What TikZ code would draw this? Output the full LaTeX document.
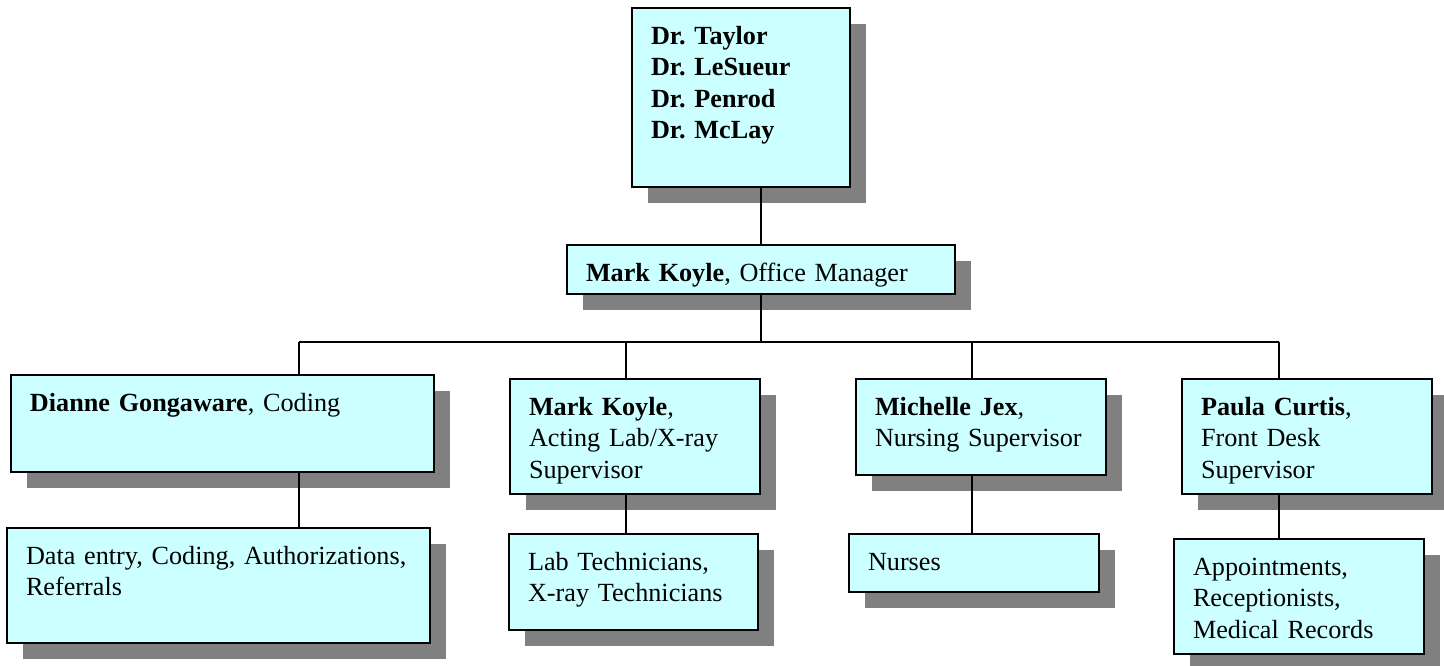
\documentclass[tikz,border=0pt]{standalone}
\usepackage{fontspec}
\setmainfont{Liberation Serif}
\usetikzlibrary{shadows}

\definecolor{boxcyan}{HTML}{CCFFFF}
\definecolor{shadowgray}{HTML}{808080}

\begin{document}
\frenchspacing
\begin{tikzpicture}[
  x=1pt, y=-1pt, font=\fontsize{26.2}{31.5}\selectfont,
  unit/.style 2 args={draw, line width=1.2pt, fill=boxcyan, anchor=north west,
    outer sep=0pt, inner xsep=19pt, inner ysep=0pt, align=left,
    text width=#1, text height=36pt, text depth=#2,
    drop shadow={shadow xshift=16pt, shadow yshift=-16pt, fill=shadowgray, opacity=1}},
  link/.style={line width=1.1pt}]
\useasboundingbox (0,0) rectangle (1444,665);
% top and office manager
\node[unit={180pt}{143pt}] (top) at (632,8)
  {\textbf{Dr. Taylor}\\\textbf{Dr. LeSueur}\\\textbf{Dr. Penrod}\\\textbf{Dr. McLay}};
\node[unit={350pt}{13pt}] (mgr) at (567,245) {\textbf{Mark Koyle}, Office Manager};
% supervisors
\node[unit={385pt}{61pt}] (dia) at (11,375) {\textbf{Dianne Gongaware}, Coding};
\node[unit={212pt}{79pt}] (mk) at (510,379) {\textbf{Mark Koyle},\\Acting Lab/X-ray\\Supervisor};
\node[unit={212pt}{60pt}] (mj) at (856,379) {\textbf{Michelle Jex},\\Nursing Supervisor};
\node[unit={212pt}{79pt}] (pc) at (1182,379) {\textbf{Paula Curtis},\\Front Desk\\Supervisor};
% staff
\node[unit={385pt}{79pt}] (diak) at (7,528) {Data entry, Coding, Authorizations,\\Referrals};
\node[unit={211pt}{60pt}] (mkk) at (509,534) {Lab Technicians,\\X-ray Technicians};
\node[unit={212pt}{22pt}] (mjk) at (849,534) {Nurses};
\node[unit={212pt}{79pt}] (pck) at (1174,539) {Appointments,\\Receptionists,\\Medical Records};
% connectors
\coordinate (d1) at (299,342); \coordinate (d2) at (626,342);
\coordinate (d3) at (972,342); \coordinate (d4) at (1279,342);
\coordinate (bus) at (mgr.south |- d1);
\draw[link] (mgr.north) -- (mgr.north |- top.south);
\draw[link] (mgr.south) -- (bus);
\draw[link] (d1) -- (d4);
\foreach \sup/\kid/\drop in {dia/diak/d1, mk/mkk/d2, mj/mjk/d3, pc/pck/d4} {
  \draw[link] (\drop) -- (\drop |- \sup.north);
  \draw[link] (\drop |- \sup.south) -- (\drop |- \kid.north);
}
\end{tikzpicture}
\end{document}
